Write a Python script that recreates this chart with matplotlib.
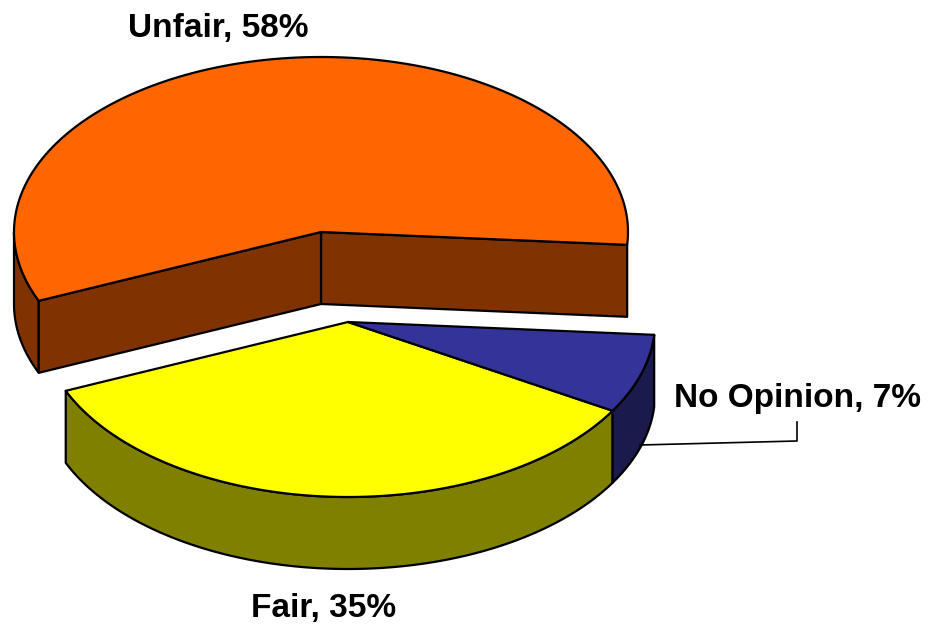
import numpy as np
import matplotlib
matplotlib.use('Agg')
import matplotlib.pyplot as plt
from matplotlib.patches import Polygon

labels = ['Unfair', 'Fair', 'No Opinion']
values = [57.6, 35.1, 7.3]
shown = [58, 35, 7]
top_colors = ['#FF6600', '#FFFF00', '#333399']
side_colors = ['#803300', '#808000', '#1A1A4D']

START = -4.2
RX = 307
RY = 175
DEPTH = 72
CENTERS = [(321, 232), (348, 322), (348, 322)]

plt.rcParams['font.family'] = ['Liberation Sans', 'DejaVu Sans']

fig = plt.figure(figsize=(9.3, 6.24), dpi=100)
ax = fig.add_axes([0, 0, 1, 1])
ax.set_xlim(0, 930)
ax.set_ylim(624, 0)
ax.axis('off')


def rim(center, a, b, drop=0):
    t = np.radians(np.linspace(a, b, max(int(abs(b - a) * 2), 2)))
    return np.column_stack([center[0] + RX * np.cos(t), center[1] - RY * np.sin(t) + drop])


def face(pts, color, z):
    ax.add_patch(Polygon(pts, closed=True, facecolor=color, edgecolor='black', linewidth=1.6, joinstyle='round', zorder=z))


angle = START
for i, v in enumerate(values):
    a = angle
    b = angle + v * 3.6
    angle = b
    c = CENTERS[i]

    # outer wall, only the front half of the ellipse shows
    lo = max(a, 180)
    hi = min(b, 360)
    if lo < hi:
        upper = rim(c, lo, hi)
        lower = rim(c, lo, hi, DEPTH)
        face(np.vstack([upper, lower[::-1]]), side_colors[i], 1 + i)

    # cut walls of the pulled out unfair slice
    if i == 0:
        for t in (a, b):
            end = rim(c, t, t)[0]
            face([c, end, end + [0, DEPTH], (c[0], c[1] + DEPTH)], side_colors[i], 1.5)

    face(np.vstack([[c], rim(c, a, b)]), top_colors[i], 5 + i)

# leader for the small slice
ax.plot([640, 797, 797], [445, 441, 422], color='black', lw=1.2, zorder=9)

font = dict(fontsize=24, fontweight='bold', color='black', ha='center', va='center')
ax.text(218, 29, f'{labels[0]}, {shown[0]}%', **font)
ax.text(324, 609, f'{labels[1]}, {shown[1]}%', **font)
ax.text(797, 399, f'{labels[2]}, {shown[2]}%', **font)

fig.savefig('out.png', dpi=100)
